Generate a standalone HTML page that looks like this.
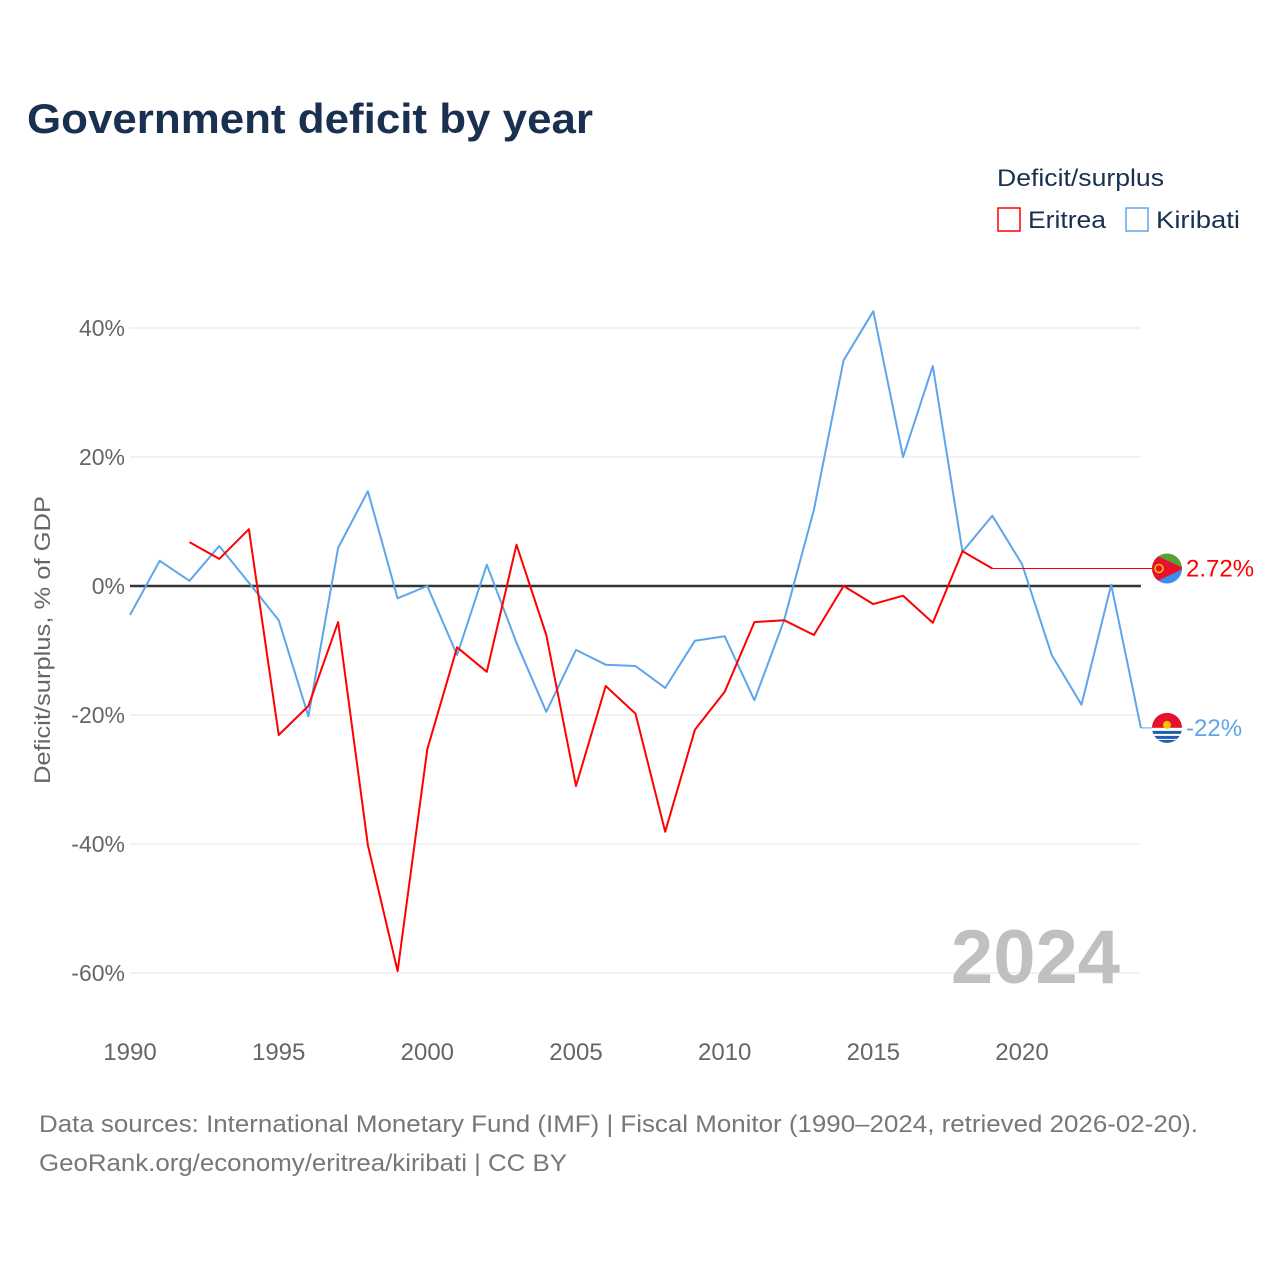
<!DOCTYPE html>
<html><head><meta charset="utf-8">
<style>
html,body{margin:0;padding:0;background:#fff;}
svg{display:block;font-family:"Liberation Sans",sans-serif;}
</style></head>
<body>
<svg id="chart" width="1280" height="1280" viewBox="0 0 1280 1280" xmlns="http://www.w3.org/2000/svg">
<rect width="1280" height="1280" fill="#fff"/>
<text x="27" y="133" font-size="42" font-weight="bold" fill="#1a3050" textLength="566" lengthAdjust="spacingAndGlyphs">Government deficit by year</text>
<g>
<text x="997" y="186" font-size="24" fill="#1a3050" textLength="167" lengthAdjust="spacingAndGlyphs">Deficit/surplus</text>
<g>
<rect x="998" y="208" width="22" height="23" fill="none" stroke="#ff0000" stroke-width="1.5"/>
<text x="1028" y="228" font-size="24" fill="#1a3050" textLength="78" lengthAdjust="spacingAndGlyphs">Eritrea</text></g>
<g>
<rect x="1126" y="208" width="22" height="23" fill="none" stroke="#5ea5ec" stroke-width="1.5"/>
<text x="1156" y="228" font-size="24" fill="#1a3050" textLength="84" lengthAdjust="spacingAndGlyphs">Kiribati</text></g>
</g>
<text transform="translate(50,640) rotate(-90)" text-anchor="middle" font-size="22" fill="#666" textLength="288" lengthAdjust="spacingAndGlyphs">Deficit/surplus, % of GDP</text>
<g id="grid"></g>
<g id="ticks"></g>
<g id="series"></g>
<text x="1120" y="983" text-anchor="end" font-size="76" font-weight="bold" fill="#c0c0c0">2024</text>
<text x="39" y="1132" font-size="24" fill="#777" textLength="1159" lengthAdjust="spacingAndGlyphs">Data sources: International Monetary Fund (IMF) | Fiscal Monitor (1990–2024, retrieved 2026-02-20).</text>
<text x="39" y="1171" font-size="24" fill="#777" textLength="528" lengthAdjust="spacingAndGlyphs">GeoRank.org/economy/eritrea/kiribati | CC BY</text>
</svg>
<script>
const yTicks = [40, 20, 0, -20, -40, -60];
const xTicks = [1990, 1995, 2000, 2005, 2010, 2015, 2020];
const kiribatiYears = [1990,1991,1992,1993,1994,1995,1996,1997,1998,1999,2000,2001,2002,2003,2004,2005,2006,2007,2008,2009,2010,2011,2012,2013,2014,2015,2016,2017,2018,2019,2020,2021,2022,2023,2024];
const kiribatiValues = [-4.5,3.9,0.8,6.2,0.5,-5.3,-20.2,5.9,14.7,-1.9,0,-10.7,3.3,-8.8,-19.5,-9.9,-12.2,-12.4,-15.8,-8.5,-7.8,-17.7,-5.3,11.8,35,42.6,20,34.1,5.3,10.9,3.4,-10.7,-18.4,0.2,-22];
const eritreaYears = [1992,1993,1994,1995,1996,1997,1998,1999,2000,2001,2002,2003,2004,2005,2006,2007,2008,2009,2010,2011,2012,2013,2014,2015,2016,2017,2018,2019];
const eritreaValues = [6.8,4.2,8.8,-23.1,-18.6,-5.6,-40.2,-59.7,-25.3,-9.5,-13.3,6.4,-7.6,-31,-15.5,-19.8,-38.1,-22.3,-16.4,-5.6,-5.3,-7.6,0,-2.8,-1.5,-5.7,5.4,2.72];
const eritreaLabel = "2.72%";
const kiribatiLabel = "-22%";

const NS = "http://www.w3.org/2000/svg";
const xs = y => 130 + (y - 1990) * (1022 - 130) / 30;
const ys = v => 586 - v * (586 - 328) / 40;
function mk(tag, attrs, parent){const e=document.createElementNS(NS,tag);for(const k in attrs)e.setAttribute(k,attrs[k]);parent.appendChild(e);return e;}
const grid=document.getElementById('grid'), ticks=document.getElementById('ticks'), series=document.getElementById('series');
const xEnd = xs(2024);
yTicks.forEach(v=>{
  const l=mk('line',{x1:130,x2:xEnd,y1:ys(v),y2:ys(v),stroke:v===0?'#333':'#e6e6e6','stroke-width':v===0?2.5:1},grid);
  
  
  const t=mk('text',{x:125,y:ys(v)+8,'text-anchor':'end','font-size':23,fill:'#666'},ticks);
  t.textContent=v+'%';
  
  
});
xTicks.forEach(y=>{
  const t=mk('text',{x:xs(y),y:1060,'text-anchor':'middle','font-size':24,fill:'#666'},ticks);
  t.textContent=y;
  
  
});
function line(years, vals, color, name){
  const d=years.map((y,i)=>(i?'L':'M')+xs(y).toFixed(1)+','+ys(vals[i]).toFixed(1)).join('');
  const p=mk('path',{d:d,fill:'none',stroke:color,'stroke-width':2,'stroke-linejoin':'round'},series);
  
  
}
line(kiribatiYears,kiribatiValues,'#5ea5ec','kiribati-line');
line(eritreaYears,eritreaValues,'#ff0000','eritrea-line');
const eLast=eritreaValues[eritreaValues.length-1], kLast=kiribatiValues[kiribatiValues.length-1];
const c1=mk('line',{x1:xs(eritreaYears[eritreaYears.length-1]),x2:1152,y1:ys(eLast),y2:ys(eLast),stroke:'#ff0000','stroke-width':1},series);


const c2=mk('line',{x1:xEnd,x2:1152,y1:ys(kLast),y2:ys(kLast),stroke:'#5ea5ec','stroke-width':1},series);


function flag(cy, kind){
  const g=mk('g',{},series);
  
  
  const id='clip'+kind;
  const cp=mk('clipPath',{id:id},g); mk('circle',{cx:1167,cy:cy,r:15},cp);
  const gg=mk('g',{'clip-path':'url(#'+id+')'},g);
  if(kind==='eritrea'){
    mk('rect',{x:1150,y:cy-16,width:34,height:16,fill:'#5a9e3a'},gg);
    mk('rect',{x:1150,y:cy,width:34,height:16,fill:'#3d8ef0'},gg);
    mk('polygon',{points:(1150)+','+(cy-16)+' 1184,'+cy+' 1150,'+(cy+16)+'',fill:'#e8112d'},gg);
    mk('circle',{cx:1159,cy:cy,r:4,fill:'none',stroke:'#f5c400','stroke-width':1.5},gg);
  } else {
    mk('rect',{x:1150,y:cy-16,width:34,height:16,fill:'#e8112d'},gg);
    mk('rect',{x:1150,y:cy,width:34,height:16,fill:'#ffffff'},gg);
    mk('rect',{x:1150,y:cy+3,width:34,height:3,fill:'#1f5fb0'},gg);
    mk('rect',{x:1150,y:cy+8,width:34,height:3,fill:'#1f5fb0'},gg);
    mk('rect',{x:1150,y:cy+12,width:34,height:5,fill:'#1f5fb0'},gg);
    mk('circle',{cx:1167,cy:cy-3,r:4,fill:'#f5c400'},gg);
  }
}
flag(ys(eLast),'eritrea');
flag(ys(kLast),'kiribati');
const l1=mk('text',{x:1186,y:ys(eLast)+8,'font-size':24,fill:'#ff0000'},series);
l1.textContent=eritreaLabel;


const l2=mk('text',{x:1186,y:ys(kLast)+8,'font-size':24,fill:'#5ea5ec'},series);
l2.textContent=kiribatiLabel;


</script>
</body></html>
